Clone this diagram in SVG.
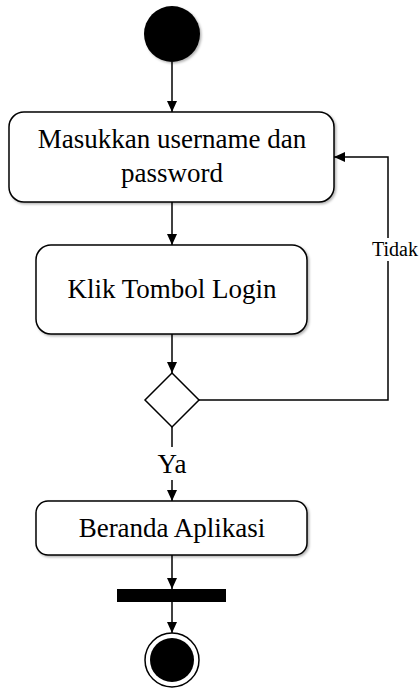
<svg xmlns="http://www.w3.org/2000/svg" width="420" height="688" viewBox="0 0 420 688">
<defs>
<marker id="arr" markerWidth="12" markerHeight="12" refX="11" refY="6" orient="auto" markerUnits="userSpaceOnUse">
<path d="M0,1 L11,6 L0,11 Z" fill="#000"/>
</marker>
<filter id="sh" x="-10%" y="-10%" width="130%" height="130%">
<feDropShadow dx="1.5" dy="1.5" stdDeviation="1.2" flood-color="#000" flood-opacity="0.3"/>
</filter>
</defs>
<style>
.box{fill:#fff;stroke:#000;stroke-width:1.5;filter:url(#sh)}
.t{font-family:"Liberation Serif","Times New Roman",serif;font-size:27px;fill:#000;text-anchor:middle}
.c{fill:none;stroke:#000;stroke-width:1.5}
</style>
<g id="connectors">
<line class="c" x1="172" y1="62" x2="172" y2="112" marker-end="url(#arr)"/>
<line class="c" x1="172" y1="202" x2="172" y2="245" marker-end="url(#arr)"/>
<line class="c" x1="172" y1="334" x2="172" y2="373" marker-end="url(#arr)"/>
<polyline class="c" points="199,400 388,400 388,157 334,157" marker-end="url(#arr)"/>
<line class="c" x1="172" y1="427" x2="172" y2="447"/>
<line class="c" x1="172" y1="480" x2="172" y2="501" marker-end="url(#arr)"/>
<line class="c" x1="172" y1="555" x2="172" y2="589" marker-end="url(#arr)"/>
<line class="c" x1="172" y1="602" x2="172" y2="633" marker-end="url(#arr)"/>
<rect x="368" y="238" width="52" height="23" fill="#fff"/>
<text x="372" y="256" style="font-family:'Liberation Serif','Times New Roman',serif;font-size:20px">Tidak</text>
<text class="t" x="172" y="473">Ya</text>
</g>
<g id="start">
<circle cx="172" cy="34" r="28" fill="#000" filter="url(#sh)"/>
</g>
<g id="masukkan">
<rect class="box" x="9" y="112" width="325" height="90" rx="15"/>
<text class="t" x="172" y="148">Masukkan username dan</text>
<text class="t" x="172" y="182">password</text>
</g>
<g id="klik">
<rect class="box" x="36" y="245" width="271" height="89" rx="15"/>
<text class="t" x="172" y="298">Klik Tombol Login</text>
</g>
<g id="decision">
<polygon points="172,373 199,400 172,427 145,400" fill="#fff" stroke="#000" stroke-width="1.5"/>
</g>
<g id="beranda">
<rect class="box" x="36" y="501" width="271" height="54" rx="12"/>
<text class="t" x="172" y="537">Beranda Aplikasi</text>
</g>
<g id="bar">
<rect x="117" y="589" width="109" height="13" fill="#000"/>
</g>
<g id="end">
<circle cx="172" cy="660" r="27" fill="#fff" stroke="#000" stroke-width="1.5"/>
<circle cx="172" cy="660" r="22" fill="#000"/>
</g>
</svg>
